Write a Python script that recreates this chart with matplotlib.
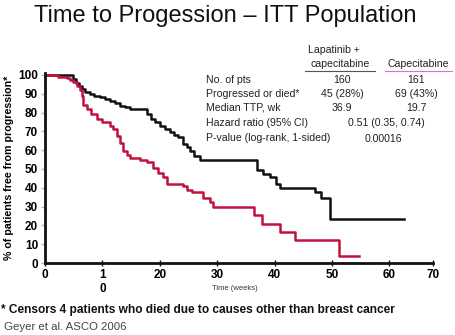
import matplotlib
matplotlib.use("Agg")
import matplotlib.pyplot as plt

# ---- data ----
lap_t = [0, 4.9, 5.4, 5.9, 6.4, 7.0, 7.8, 8.6, 9.6, 10.5, 11.3, 12.2, 13.0, 14.0, 14.8,
         17.8, 18.5, 19.2, 20.0, 20.9, 21.8, 22.5, 23.2, 24.0, 24.7, 25.3, 26.0, 27.0,
         36.9, 38.0, 39.2, 40.2, 41.0, 47.0, 48.0, 49.7, 62.5]
lap_s = [100, 98, 95.5, 94, 92.5, 91, 90, 89, 88, 87, 86, 85, 83.5, 83, 82,
         79, 76.5, 75, 73, 71, 69.5, 68, 67, 63.5, 61.5, 59.5, 57, 54.5,
         49.5, 47.5, 45.5, 42, 40, 37.5, 34.5, 23.5, 23.5]

cap_t = [0, 2.3, 3.8, 4.4, 4.9, 5.5, 6.1, 6.4, 6.6, 7.3, 8.0, 9.0, 10.0, 11.3, 11.8,
         12.5, 13.0, 13.6, 14.2, 14.8, 16.5, 17.8, 18.8, 19.7, 20.6, 21.3, 24.0, 24.7,
         25.6, 26.5, 27.5, 28.7, 29.3, 36.4, 37.8, 41.0, 43.6, 51.2, 54.7]
cap_s = [100, 99, 98.5, 97.5, 96, 94, 92, 89, 84, 82, 79, 76.5, 75, 73, 71,
         67.5, 64, 59.5, 57.5, 56, 55, 53.5, 50.5, 48, 45.5, 42, 41, 39,
         38, 37.5, 34.5, 32.5, 30, 25.5, 20.5, 16.5, 12.3, 3.5, 3.5]

x_ticks = [0, 10, 20, 30, 40, 50, 60, 67.6]
x_ticklabels = ["0", "1\n0", "20", "30", "40", "50", "60", "70"]
y_ticks = [0, 10, 20, 30, 40, 50, 60, 70, 80, 90, 100]

row_labels = ["No. of pts", "Progressed or died*", "Median TTP, wk",
              "Hazard ratio (95% CI)", "P-value (log-rank, 1-sided)"]
lap_vals = ["160", "45 (28%)", "36.9"]
cap_vals = ["161", "69 (43%)", "19.7"]
shared_vals = ["0.51 (0.35, 0.74)", "0.00016"]

W, H = 456, 335
fig = plt.figure(figsize=(W / 100, H / 100), dpi=100)
plt.rcParams['font.family'] = ['Liberation Sans', 'DejaVu Sans']

def fx(px):
    return px / W

def fy(py):
    return 1 - py / H

ax = fig.add_axes([fx(45), fy(263), fx(433) - fx(45), fy(73) - fy(263)])
ax.step(lap_t, lap_s, where='post', color='#111111', lw=1.8)
ax.step(cap_t, cap_s, where='post', color='#c0123e', lw=1.8)
ax.set_xlim(0, 67.6)
ax.set_ylim(0, 101)
for s in ['top', 'right']:
    ax.spines[s].set_visible(False)
for s in ['left', 'bottom']:
    ax.spines[s].set_linewidth(2)
    ax.spines[s].set_color('#111111')
ax.set_xticks(x_ticks)
ax.set_xticklabels(x_ticklabels, fontweight='bold', fontsize=8.5, linespacing=1.2)
ax.set_yticks(y_ticks)
ax.set_yticklabels([str(v) for v in y_ticks], fontweight='bold', fontsize=8.5)
ax.tick_params(axis='x', direction='inout', length=5, width=1, color='#111111', pad=2)
ax.tick_params(axis='y', direction='out', length=3, width=1, color='#7fd8a0', pad=2)
ax.set_ylabel("% of patients free from progression*", fontsize=7.7, fontweight='bold', labelpad=3)
ax.text(0.49, -0.135, "Time (weeks)", transform=ax.transAxes, fontsize=5.5,
        ha='center', va='center', color='#333333')

# title
fig.text(fx(225), fy(16), "Time to Progession \u2013 ITT Population", fontsize=17,
         ha='center', va='center', color='#111111')

# table
tc = '#222222'
ts = 7.6
fig.text(fx(334), fy(50), "Lapatinib +", fontsize=ts, ha='center', va='center', color=tc)
fig.text(fx(340), fy(64), "capecitabine", fontsize=ts, ha='center', va='center', color=tc)
fig.text(fx(418), fy(64), "Capecitabine", fontsize=ts, ha='center', va='center', color=tc)
fig.add_artist(plt.Line2D([fx(305), fx(375)], [fy(70.5), fy(70.5)], color='#555555', lw=0.8))
fig.add_artist(plt.Line2D([fx(385), fx(452)], [fy(70.5), fy(70.5)], color='#e070c0', lw=0.8))

row_y = [80, 94, 108, 123, 138]
for lbl, y in zip(row_labels, row_y):
    fig.text(fx(206), fy(y), lbl, fontsize=ts, ha='left', va='center', color=tc)
for v, y in zip(lap_vals, row_y[:3]):
    fig.text(fx(342), fy(y), v, fontsize=ts, ha='center', va='center', color=tc)
for v, y in zip(cap_vals, row_y[:3]):
    fig.text(fx(416), fy(y), v, fontsize=ts, ha='center', va='center', color=tc)
fig.text(fx(386), fy(row_y[3]), shared_vals[0], fontsize=ts, ha='center', va='center', color=tc)
fig.text(fx(383), fy(row_y[4] + 1), shared_vals[1], fontsize=ts, ha='center', va='center', color=tc)

# footnotes
fig.text(fx(1), fy(310), "* Censors 4 patients who died due to causes other than breast cancer",
         fontsize=8.6, fontweight='bold', ha='left', va='center', color='#111111')
fig.text(fx(4), fy(327), "Geyer et al. ASCO 2006", fontsize=8.2, ha='left', va='center', color='#444444')

fig.savefig("out.png", dpi=100)
